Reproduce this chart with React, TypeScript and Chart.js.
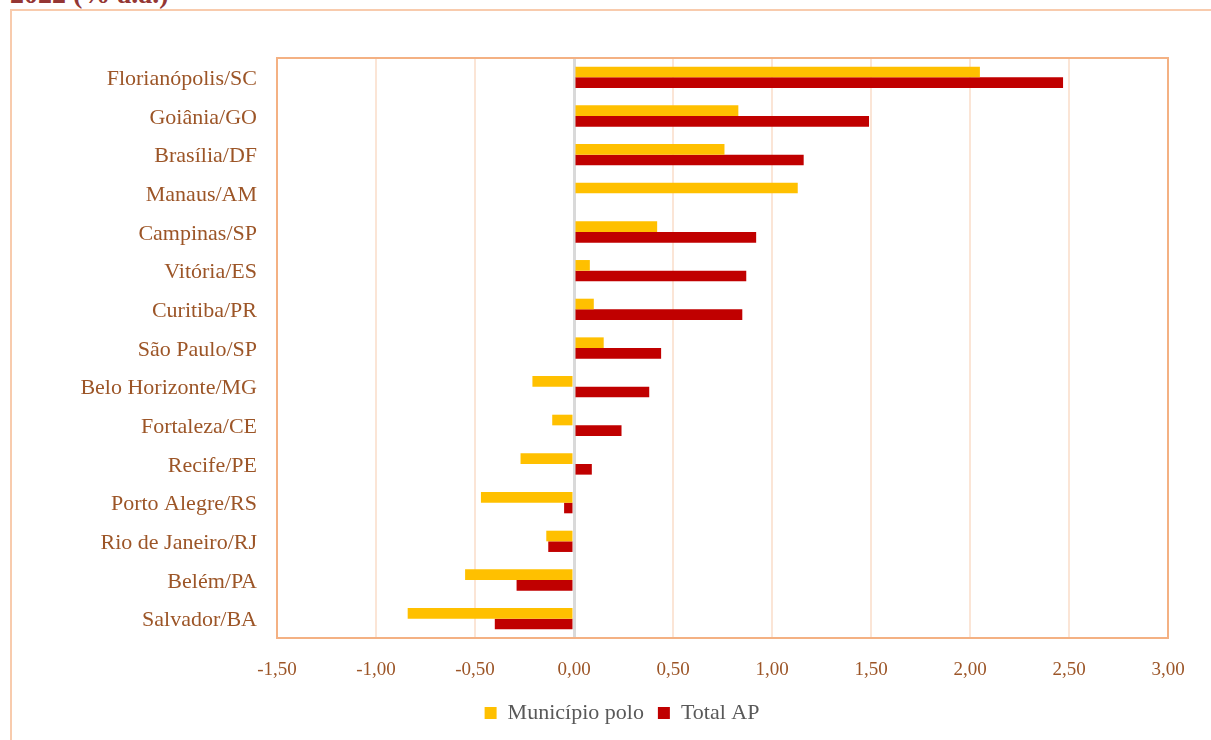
import React, { useEffect, useRef } from "react";
import { Chart, registerables } from "chart.js";

Chart.register(...registerables);

const categories = [
  "Florianópolis/SC",
  "Goiânia/GO",
  "Brasília/DF",
  "Manaus/AM",
  "Campinas/SP",
  "Vitória/ES",
  "Curitiba/PR",
  "São Paulo/SP",
  "Belo Horizonte/MG",
  "Fortaleza/CE",
  "Recife/PE",
  "Porto Alegre/RS",
  "Rio de Janeiro/RJ",
  "Belém/PA",
  "Salvador/BA",
];

const municipioPolo = [2.05, 0.83, 0.76, 1.13, 0.42, 0.08, 0.1, 0.15, -0.21, -0.11, -0.27, -0.47, -0.14, -0.55, -0.84];
const totalAP = [2.47, 1.49, 1.16, null, 0.92, 0.87, 0.85, 0.44, 0.38, 0.24, 0.09, -0.05, -0.13, -0.29, -0.4];

const seriesNames = ["Município polo", "Total AP"];
const xMin = -1.5;
const xMax = 3.0;
const xStep = 0.5;

const frameBorder = {
  id: "frameBorder",
  afterDraw(chart: any) {
    const { ctx, chartArea } = chart;
    ctx.save();
    ctx.strokeStyle = "#F4B183";
    ctx.lineWidth = 2;
    ctx.strokeRect(chartArea.left, chartArea.top, chartArea.right - chartArea.left, chartArea.bottom - chartArea.top);
    ctx.restore();
  },
};

export default function App() {
  const ref = useRef<HTMLCanvasElement | null>(null);

  useEffect(() => {
    if (!ref.current) return;
    const chart = new Chart(ref.current, {
      type: "bar",
      data: {
        labels: categories,
        datasets: [
          {
            label: seriesNames[0],
            data: municipioPolo,
            backgroundColor: "#FFC000",
            borderWidth: 0,
            categoryPercentage: 0.55,
            barPercentage: 1,
          },
          {
            label: seriesNames[1],
            data: totalAP as any,
            backgroundColor: "#C00000",
            borderWidth: 0,
            categoryPercentage: 0.55,
            barPercentage: 1,
          },
        ],
      },
      options: {
        indexAxis: "y",
        animation: false,
        responsive: false,
        maintainAspectRatio: false,
        layout: { padding: { top: 58, right: 43, left: 76, bottom: 6 } },
        scales: {
          x: {
            min: xMin,
            max: xMax,
            afterFit: (s: any) => {
              s.height = 50;
            },
            ticks: {
              stepSize: xStep,
              padding: 21,
              color: "#9C5527",
              font: { family: "Liberation Serif", size: 19 },
              callback: (v: any) => Number(v).toFixed(2).replace(".", ","),
            },
            grid: {
              drawTicks: false,
              color: (c: any) => (c.tick && Math.abs(c.tick.value) < 1e-9 ? "#D9D9D9" : "#FBE5D6"),
              lineWidth: (c: any) => (c.tick && Math.abs(c.tick.value) < 1e-9 ? 3 : 2),
            },
            border: { display: false },
          },
          y: {
            afterFit: (s: any) => {
              s.width = 201;
            },
            ticks: {
              padding: 20,
              labelOffset: 2,
              color: "#9C5527",
              font: { family: "Liberation Serif", size: 22 },
            },
            grid: { display: false, drawTicks: false },
            border: { display: false },
          },
        },
        plugins: {
          legend: {
            position: "bottom",
            labels: {
              boxWidth: 12,
              boxHeight: 12,
              padding: 14,
              color: "#595959",
              font: { family: "Liberation Serif", size: 22 },
            },
          },
          tooltip: { enabled: false },
        },
      },
      plugins: [frameBorder],
    });
    return () => chart.destroy();
  }, []);

  return (
    <div style={{ position: "absolute", left: 0, top: 0, width: 1211, height: 740, overflow: "hidden", background: "#fff" }}>
      <div
        style={{
          position: "absolute",
          left: 10,
          top: -22,
          fontFamily: "Liberation Serif",
          fontWeight: "bold",
          fontSize: 28,
          color: "#943634",
          whiteSpace: "nowrap",
        }}
      >
        2022 (% a.a.)
      </div>
      <div
        style={{
          position: "absolute",
          left: 10,
          top: 9,
          width: 1230,
          height: 780,
          border: "2px solid #F8CBAD",
        }}
      />
      <canvas ref={ref} width={1211} height={740} style={{ position: "absolute", left: 0, top: 0 }} />
    </div>
  );
}
